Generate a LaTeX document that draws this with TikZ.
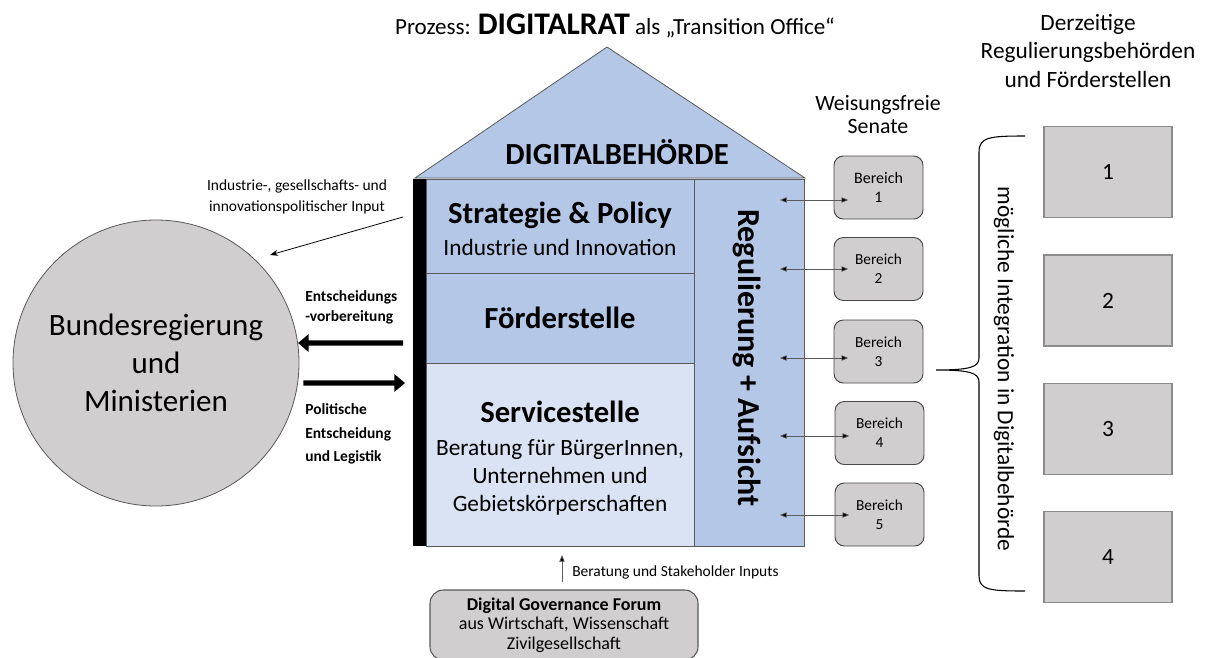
\documentclass[tikz,border=0pt]{standalone}
\usepackage{fontspec}
\setmainfont{Carlito}
\usetikzlibrary{arrows.meta}
\definecolor{roofblue}{HTML}{B4C7E7}
\definecolor{paleblue}{HTML}{DAE3F3}
\definecolor{boxgray}{HTML}{D0CECE}
\definecolor{edgegray}{HTML}{595959}
\newcommand{\fs}[2]{\fontsize{#1}{#2}\selectfont}
\tikzset{
  part/.style={draw=edgegray, line width=0.6pt, inner sep=0pt, outer sep=0pt, align=center},
  senat/.style={draw=edgegray!80!black, fill=boxgray, rounded corners=7pt, line width=0.7pt,
    minimum width=66.75pt, minimum height=47.25pt, inner sep=0pt, align=center, font=\fs{11.5}{14}},
  office/.style={draw=edgegray!70, fill=boxgray, line width=1pt,
    minimum width=96pt, minimum height=68.25pt, inner sep=0pt, font=\fs{17.5}{21}},
  link/.style={draw=edgegray, line width=0.5pt,
    {Triangle[length=5pt,width=4pt,fill=black]}-{Triangle[length=5pt,width=4pt,fill=black]}},
  bigarrow/.style={line width=4pt, -{Triangle[length=8pt,width=13pt]}},
  label/.style={inner sep=0pt, align=center}
}
\begin{document}
\begin{tikzpicture}[x=0.75pt,y=-0.75pt]
\useasboundingbox (0,0) rectangle (1205,657);

% title
\node[label] (title) at (615,26) {\fs{17.3}{20}Prozess: {\bfseries\fs{23.6}{26}DIGITALRAT} als „Transition Office“};

% roof
\path[draw=edgegray, line width=0.6pt, fill=roofblue] (415,178) -- (607,47) -- (805,178) -- cycle;
\node[label, font=\bfseries\fs{23}{26}] (behoerde) at (617,152) {DIGITALBEHÖRDE};

% house body
\node[part, fill=roofblue, minimum width=201pt, minimum height=70.5pt, font=\fs{17.5}{21}] (strat) at (560,226)
  {{\rule{0pt}{20pt}\bfseries\fs{23}{26}Strategie \& Policy}\\[3pt]Industrie und Innovation};
\node[part, fill=roofblue, minimum width=201pt, minimum height=67.5pt, font=\bfseries\fs{23}{26}] (foerd) at (560,318) {Förderstelle};
\node[part, fill=paleblue, minimum width=201pt, minimum height=137.25pt, font=\fs{17.5}{21}] (serv) at (560,454.5)
  {{\rule{0pt}{21.5pt}\bfseries\fs{23}{26}Servicestelle}\\[3.5pt]Beratung für BürgerInnen,\\Unternehmen und\\Gebietskörperschaften};
\node[part, fill=roofblue, minimum width=82.5pt, minimum height=275.25pt] (reg) at (749,362.5) {};
\node[label, rotate=-90, font=\bfseries\fs{24}{26}] (regtext) at (747,358) {Regulierung + Aufsicht};
\node[fill=black, inner sep=0pt, minimum width=9.75pt, minimum height=275.25pt] (bar) at (419.5,362.5) {};

% government
\node[circle, draw=edgegray, line width=0.6pt, fill=boxgray, minimum size=214.5pt, inner sep=0pt, align=center,
  font=\fs{23.25}{28.5}] (gov) at (156,363) {Bundesregierung\\und\\Ministerien};

\node[label, font=\fs{11.6}{15.75}] (input) at (297,197) {Industrie-, gesellschafts- und\\innovationspolitischer Input};
\coordinate (inputstart) at (403,217);
\draw[line width=0.6pt, -{Stealth[length=6pt,width=4.5pt]}] (inputstart) -- (270,255);

\coordinate (prepstart) at (403,343);
\draw[bigarrow] (prepstart) -- (gov.8);
\coordinate (decend) at (405,383);
\draw[bigarrow] ([xshift=4pt]gov.-8) -- (decend);
\node[label, anchor=west, align=left, font=\bfseries\fs{11.6}{15}] (prep) at (305,307) {Entscheidungs\\-vorbereitung};
\node[label, anchor=west, align=left, font=\bfseries\fs{11.6}{17.6}] (dec) at (305,434) {Politische\\Entscheidung\\und Legistik};

% senates
\node[label, font=\fs{16.4}{17.25}] (senhead) at (878,115) {Weisungsfreie\\Senate};
\node[senat, font=\fs{12}{14}] (b1) at (878.5,187.5) {Bereich\\1};
\node[senat] (b2) at (878.5,269) {Bereich\\2};
\node[senat] (b3) at (878.5,351.5) {Bereich\\3};
\node[senat] (b4) at (879.5,433) {Bereich\\4};
\node[senat] (b5) at (879.5,514.5) {Bereich\\5};
\foreach \b/\y in {b1/200,b2/269,b3/358,b4/436,b5/515}{
  \coordinate (\b l) at (780,\y);
  \draw[link] (\b l) -- ([xshift=11pt]\b.west |- \b l);
}

% brace
\draw[line width=0.8pt] (1025,136) .. controls (990,136) and (979,137) .. (979,152)
  -- (979,358) .. controls (979,367) and (970,370) .. (936,370)
  .. controls (970,370) and (979,373) .. (979,382)
  -- (979,576) .. controls (979,590) and (990,591) .. (1025,591);
\node[label, rotate=-90, font=\fs{17.5}{21}] (integ) at (1004,369) {mögliche Integration in Digitalbehörde};

% current authorities
\node[label, font=\fs{17.5}{21.5}] (curhead) at (1088,51) {Derzeitige\\Regulierungsbehörden\\und Förderstellen};
\node[office] (o1) at (1108,172) {1};
\node[office] (o2) at (1108,300.5) {2};
\node[office] (o3) at (1108,429) {3};
\node[office] (o4) at (1108,557) {4};

% forum
\node[draw=edgegray, line width=0.8pt, fill=boxgray, rounded corners=10pt, minimum width=201pt, minimum height=52.5pt,
  inner sep=0pt, align=center, font=\fs{13.5}{14.5}] (forum) at (564,625)
  {{\bfseries Digital Governance Forum}\\aus Wirtschaft, Wissenschaft\\Zivilgesellschaft};
\draw[edgegray, line width=0.6pt, -{Triangle[length=5pt,width=4pt,fill=black]}] ([xshift=-1.5pt,yshift=5.25pt]forum.north) -- ([xshift=1.5pt,yshift=-6.75pt]serv.south);
\node[label, anchor=west, font=\fs{11.6}{14}] (stake) at (572,572) {Beratung und Stakeholder Inputs};
\end{tikzpicture}
\end{document}
